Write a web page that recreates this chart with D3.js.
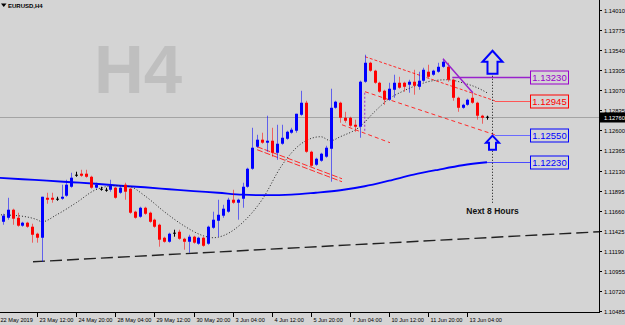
<!DOCTYPE html>
<html>
<head>
<meta charset="utf-8">
<script src="https://cdn.jsdelivr.net/npm/d3@7"></script>
<style>
  body { margin: 0; background: #d4d4d4; }
  svg { display: block; }
  text { font-family: "Liberation Sans", Arial, sans-serif; }
</style>
</head>
<body>
<svg id="chart" width="625" height="325"></svg>
<script>
/* time axis labels, one every 8 H4 bars */
var tickBars = [0, 8, 16, 24, 32, 40, 48, 56, 64, 72, 80, 88, 96];
var tickLabels = ["22 May 2019", "23 May 12:00", "24 May 20:00", "28 May 04:00", "29 May 12:00",
  "30 May 20:00", "3 Jun 04:00", "4 Jun 12:00", "5 Jun 20:00", "7 Jun 04:00",
  "10 Jun 12:00", "11 Jun 20:00", "13 Jun 04:00"];

/* price axis */
var priceTicks = [1.14010, 1.13775, 1.13540, 1.13305, 1.13070, 1.12835, 1.12600, 1.12365,
  1.12130, 1.11895, 1.11660, 1.11425, 1.11190, 1.10955, 1.10720, 1.10485];
var lastPrice = 1.12760;

/* EURUSD H4 candles, bar 0 .. 100 */
var open = [1.11624,1.11530,1.11577,1.11671,1.11577,1.11484,1.11519,1.11472,1.11390,1.11343,
  1.11811,1.11811,1.11800,1.11800,1.11835,1.11940,1.12081,1.12093,1.12093,1.12057,
  1.11929,1.11917,1.11905,1.11905,1.11929,1.11870,1.11964,1.11917,1.11648,1.11589,
  1.11694,1.11636,1.11554,1.11495,1.11343,1.11296,1.11402,1.11413,1.11331,1.11296,
  1.11355,1.11273,1.11343,1.11273,1.11460,1.11542,1.11601,1.11648,1.11788,1.11753,
  1.11800,1.11940,1.12151,1.12409,1.12491,1.12456,1.12479,1.12338,1.12444,1.12502,
  1.12573,1.12596,1.12783,1.12924,1.12350,1.12198,1.12245,1.12292,1.12385,1.12865,
  1.12924,1.12748,1.12748,1.12666,1.12643,1.13170,1.13392,1.13299,1.13158,1.13064,
  1.12959,1.13076,1.13158,1.13158,1.13135,1.13170,1.13111,1.13182,1.13287,1.13252,
  1.13287,1.13345,1.13345,1.13193,1.12982,1.12865,1.12900,1.12982,1.12924,1.12772,
  1.12760];
var high = [1.11648,1.11624,1.11811,1.11683,1.11636,1.11530,1.11530,1.11507,1.11402,1.11823,
  1.11870,1.11870,1.11823,1.11964,1.12022,1.12104,1.12116,1.12139,1.12139,1.12069,
  1.11987,1.11940,1.11929,1.12022,1.11940,1.11952,1.11987,1.11929,1.11659,1.11706,
  1.11706,1.11648,1.11566,1.11507,1.11355,1.11402,1.11437,1.11437,1.11343,1.11378,
  1.11366,1.11355,1.11355,1.11484,1.11648,1.11788,1.11729,1.11811,1.11905,1.11800,
  1.11987,1.12163,1.12631,1.12549,1.12573,1.12772,1.12631,1.12666,1.12666,1.12596,
  1.12631,1.12795,1.13064,1.12947,1.12362,1.12280,1.12338,1.12420,1.13088,1.12947,
  1.12936,1.12818,1.12760,1.12725,1.13182,1.13486,1.13404,1.13310,1.13170,1.13076,
  1.13158,1.13252,1.13228,1.13170,1.13193,1.13310,1.13287,1.13334,1.13369,1.13310,
  1.13392,1.13439,1.13392,1.13205,1.12994,1.12912,1.12971,1.13041,1.12936,1.12783,
  1.12772];
var low = [1.11554,1.11495,1.11554,1.11495,1.11472,1.11472,1.11460,1.11285,1.11285,1.11062,
  1.11741,1.11753,1.11776,1.11788,1.11823,1.11929,1.12057,1.12057,1.12046,1.11917,
  1.11917,1.11894,1.11882,1.11882,1.11800,1.11858,1.11788,1.11624,1.11566,1.11577,
  1.11612,1.11519,1.11460,1.11238,1.11285,1.11285,1.11355,1.11320,1.11203,1.11167,
  1.11273,1.11261,1.11238,1.11261,1.11448,1.11355,1.11577,1.11636,1.11741,1.11554,
  1.11694,1.11929,1.12139,1.12397,1.12444,1.12350,1.12292,1.12256,1.12432,1.12491,
  1.12561,1.12573,1.12772,1.12338,1.12174,1.12186,1.12233,1.12280,1.11999,1.12854,
  1.12690,1.12690,1.12643,1.12584,1.12514,1.13158,1.13287,1.13146,1.13041,1.12900,
  1.12947,1.12982,1.13088,1.13053,1.13041,1.13018,1.13076,1.13170,1.13217,1.13240,
  1.13275,1.13334,1.13170,1.12947,1.12818,1.12854,1.12889,1.12912,1.12725,1.12678,
  1.12725];
var close = [1.11577,1.11601,1.11671,1.11566,1.11484,1.11519,1.11472,1.11378,1.11343,1.11823,
  1.11788,1.11788,1.11800,1.11823,1.11964,1.12046,1.12081,1.12069,1.12057,1.11929,
  1.11964,1.11917,1.11905,1.11952,1.11811,1.11929,1.11882,1.11636,1.11577,1.11694,
  1.11624,1.11530,1.11472,1.11320,1.11296,1.11390,1.11402,1.11331,1.11296,1.11355,
  1.11285,1.11343,1.11249,1.11472,1.11554,1.11612,1.11683,1.11788,1.11753,1.11788,
  1.11940,1.12151,1.12397,1.12491,1.12456,1.12479,1.12338,1.12444,1.12514,1.12584,
  1.12608,1.12795,1.12924,1.12350,1.12186,1.12268,1.12327,1.12397,1.12865,1.12936,
  1.12748,1.12713,1.12655,1.12643,1.13170,1.13392,1.13299,1.13158,1.13053,1.12959,
  1.13088,1.13158,1.13100,1.13111,1.13170,1.13123,1.13182,1.13310,1.13228,1.13299,
  1.13345,1.13404,1.13193,1.12982,1.12865,1.12900,1.12959,1.12924,1.12772,1.12748,
  1.12760];

/* slow moving average (blue) */
var maSlowBars = [0, 5, 10, 15, 20, 25, 30, 35, 40, 45, 50, 55, 60, 65, 70, 75, 80, 85, 90, 95, 100];
var maSlow = [1.12046, 1.12028, 1.12011, 1.11993, 1.11975, 1.11952, 1.11934, 1.11911, 1.11888, 1.11870,
  1.11847, 1.11841, 1.11847, 1.11870, 1.11899, 1.11946, 1.12011, 1.12081, 1.12139, 1.12192, 1.12227];

/* fast moving average (black dotted) */
var maFastBars = [0, 4, 8, 9, 12, 16, 20, 24, 27, 30, 34, 38, 42, 44, 46, 50, 54, 58, 62, 66, 68, 70,
  74, 77, 80, 83, 86, 89, 92, 95, 98, 100];
var maFast = [1.11612, 1.11601, 1.11554, 1.11530, 1.11612, 1.11753, 1.11905, 1.11952, 1.11940, 1.11835,
  1.11648, 1.11484, 1.11366, 1.11343, 1.11366, 1.11519, 1.11788, 1.12186, 1.12444, 1.12526, 1.12479,
  1.12526, 1.12643, 1.12818, 1.12971, 1.13064, 1.13135, 1.13182, 1.13193, 1.13158, 1.13100, 1.13041];

/* marked levels on the right */
var levelPrices = [1.13230, 1.12945, 1.12550, 1.12230];
var levelStart = [92.9, 101.6, 101.6, 100];

var svg = d3.select("#chart");
var W = 625, H = 325;

var x = d3.scaleLinear().domain([0, 100]).range([-2, 487]);
var y = d3.scaleLinear().domain([1.10485, 1.14010]).range([311, 10]);
var plotRight = 599, plotBottom = 312;

svg.append("rect").attr("width", W).attr("height", H).attr("fill", "#d4d4d4");

var plot = svg.append("g");
svg.append("defs").append("clipPath").attr("id", "clip")
  .append("rect").attr("x", 0).attr("y", 0).attr("width", plotRight).attr("height", plotBottom);
plot.attr("clip-path", "url(#clip)");

/* watermark */
plot.append("text")
  .attr("x", 94).attr("y", 93)
  .attr("font-size", 69).attr("font-weight", "bold")
  .attr("fill", "#bfbfbf")
  .text("H4");

/* last price line */
plot.append("line")
  .attr("x1", 0).attr("x2", plotRight)
  .attr("y1", Math.round(y(lastPrice)) + 0.5).attr("y2", Math.round(y(lastPrice)) + 0.5)
  .attr("stroke", "#a4a4a4");

/* trend lines: [bar1, price1, bar2, price2] */
function seg(d, color, dash, width) {
  plot.append("line")
    .attr("x1", x(d[0])).attr("y1", y(d[1]))
    .attr("x2", x(d[2])).attr("y2", y(d[3]))
    .attr("stroke", color).attr("stroke-width", width || 1)
    .attr("stroke-dasharray", dash);
}
seg([7.16, 1.11062, 122.9, 1.11413], "#222", "12,5", 1.4);
seg([75.05, 1.13463, 101.6, 1.12947], "#ff2a2a", "3,2");
seg([75.05, 1.13053, 101.6, 1.12549], "#ff2a2a", "4,3");
seg([70.35, 1.12666, 80.16, 1.12456], "#ff2a2a", "4,3");
seg([52.97, 1.12409, 70.35, 1.12034], "#ff2a2a", "6,2");
seg([52.97, 1.12374, 70.35, 1.11999], "#ff2a2a", "6,2");
seg([75.0, 1.13041, 75.0, 1.12584], "#9933cc", "2,2");

/* moving averages */
var slowLine = d3.line()
  .x(function(d, i) { return x(maSlowBars[i]); })
  .y(function(d) { return y(d); })
  .curve(d3.curveMonotoneX);
plot.append("path").datum(maSlow)
  .attr("d", slowLine).attr("fill", "none")
  .attr("stroke", "#0000ff").attr("stroke-width", 1.8);

var fastLine = d3.line()
  .x(function(d, i) { return x(maFastBars[i]); })
  .y(function(d) { return y(d); })
  .curve(d3.curveMonotoneX);
plot.append("path").datum(maFast)
  .attr("d", fastLine).attr("fill", "none")
  .attr("stroke", "#222").attr("stroke-width", 1)
  .attr("stroke-dasharray", "1,2");

/* candles */
var bars = d3.range(open.length);
function candleColor(i) {
  if (close[i] > open[i]) return "#0000ff";
  if (close[i] < open[i]) return "#ff0000";
  return "#000000";
}
var candle = plot.append("g").selectAll("g").data(bars).join("g");
candle.append("line")
  .attr("x1", function(i) { return Math.round(x(i)) + 0.5; })
  .attr("x2", function(i) { return Math.round(x(i)) + 0.5; })
  .attr("y1", function(i) { return y(high[i]); })
  .attr("y2", function(i) { return y(low[i]); })
  .attr("stroke", candleColor)
  .attr("stroke-opacity", function(i) { return open[i] === close[i] ? 1 : 0.55; });
candle.append("rect")
  .attr("x", function(i) { return Math.round(x(i)) - 1; })
  .attr("width", 3)
  .attr("y", function(i) { return y(Math.max(open[i], close[i])); })
  .attr("height", function(i) { return Math.max(1, Math.abs(y(open[i]) - y(close[i]))); })
  .attr("fill", candleColor);

/* purple swing line */
seg([91.0, 1.13439, 97.1, 1.13041], "#9922cc", null, 1.5);

/* level lines and boxes */
var levelColors = ["#9922cc", "#ff5555", "#6a6aff", "#4a4aff"];
var textColors = ["#9900cc", "#ff0000", "#0000ff", "#0000ff"];
var boxLeft = 530, boxW = 38, boxH = 13;
levelPrices.forEach(function(p, k) {
  var yy = Math.round(y(p)) + 0.5;
  svg.append("line")
    .attr("x1", x(levelStart[k])).attr("x2", boxLeft)
    .attr("y1", yy).attr("y2", yy)
    .attr("stroke", levelColors[k]).attr("stroke-width", k === 0 ? 1.5 : 1.2);
  svg.append("rect")
    .attr("x", boxLeft + 0.5).attr("y", yy - boxH / 2)
    .attr("width", boxW).attr("height", boxH)
    .attr("fill", "#d4d4d4")
    .attr("stroke", textColors[k]).attr("stroke-width", 1);
  svg.append("text")
    .attr("x", boxLeft + boxW / 2 + 0.5).attr("y", yy + 3.5)
    .attr("text-anchor", "middle")
    .attr("font-size", 9.5)
    .attr("fill", textColors[k])
    .text(p.toFixed(5));
});

/* forecast marker: dotted vertical, arrows, caption */
var fx = Math.round(x(101.1)) + 0.5;
svg.append("line")
  .attr("x1", fx).attr("x2", fx)
  .attr("y1", y(1.13275)).attr("y2", y(1.11753))
  .attr("stroke", "#111").attr("stroke-dasharray", "1,2");

function upArrow(tip, bottom, headH, headW, shaftW) {
  var t = y(tip), b = y(bottom), hb = t + headH;
  var pts = [[fx, t], [fx + headW, hb], [fx + shaftW, hb], [fx + shaftW, b],
    [fx - shaftW, b], [fx - shaftW, hb], [fx - headW, hb]];
  svg.append("path")
    .attr("d", d3.line()(pts) + "Z")
    .attr("fill", "#d4d4d4")
    .attr("stroke", "#0000ff").attr("stroke-width", 2)
    .attr("stroke-linejoin", "miter");
}
upArrow(1.13533, 1.13263, 11, 10, 5);
upArrow(1.12538, 1.12374, 7, 6.5, 3.5);

svg.append("text")
  .attr("x", fx).attr("y", 214)
  .attr("text-anchor", "middle")
  .attr("font-size", 8.5).attr("font-weight", "bold")
  .attr("fill", "#111")
  .text("Next 8 Hours");

/* axes */
svg.append("line")
  .attr("x1", plotRight + 0.5).attr("x2", plotRight + 0.5)
  .attr("y1", 0).attr("y2", plotBottom + 1)
  .attr("stroke", "#000");
svg.append("line")
  .attr("x1", 0).attr("x2", plotRight + 1)
  .attr("y1", plotBottom + 0.5).attr("y2", plotBottom + 0.5)
  .attr("stroke", "#000").attr("stroke-width", 1.2);

var yAxis = svg.append("g");
priceTicks.forEach(function(p) {
  var yy = Math.round(y(p)) + 0.5;
  yAxis.append("line")
    .attr("x1", plotRight + 1).attr("x2", plotRight + 3)
    .attr("y1", yy).attr("y2", yy).attr("stroke", "#000");
  yAxis.append("text")
    .attr("x", plotRight + 5).attr("y", yy + 2)
    .attr("font-size", 5.8).attr("fill", "#000")
    .text(p.toFixed(5));
});

/* last price tag */
var ly = Math.round(y(lastPrice)) + 0.5;
svg.append("rect")
  .attr("x", plotRight + 1).attr("y", ly - 5)
  .attr("width", 26).attr("height", 10).attr("fill", "#000");
svg.append("text")
  .attr("x", plotRight + 5).attr("y", ly + 2)
  .attr("font-size", 5.8).attr("fill", "#fff")
  .text(lastPrice.toFixed(5));

var xAxis = svg.append("g");
tickBars.forEach(function(b, k) {
  var xx = Math.round(x(b)) + 0.5;
  xAxis.append("line")
    .attr("x1", xx).attr("x2", xx)
    .attr("y1", plotBottom + 1).attr("y2", plotBottom + 5).attr("stroke", "#000");
  xAxis.append("text")
    .attr("x", xx + 2).attr("y", plotBottom + 9.5)
    .attr("font-size", 5.6).attr("fill", "#000")
    .text(tickLabels[k]);
});

/* title */
svg.append("path")
  .attr("d", "M1,3.5 L6.5,3.5 L3.75,7 Z").attr("fill", "#000");
svg.append("text")
  .attr("x", 8).attr("y", 7.5)
  .attr("font-size", 6).attr("font-weight", "bold")
  .attr("fill", "#000")
  .text("EURUSD,H4");
</script>
</body>
</html>
